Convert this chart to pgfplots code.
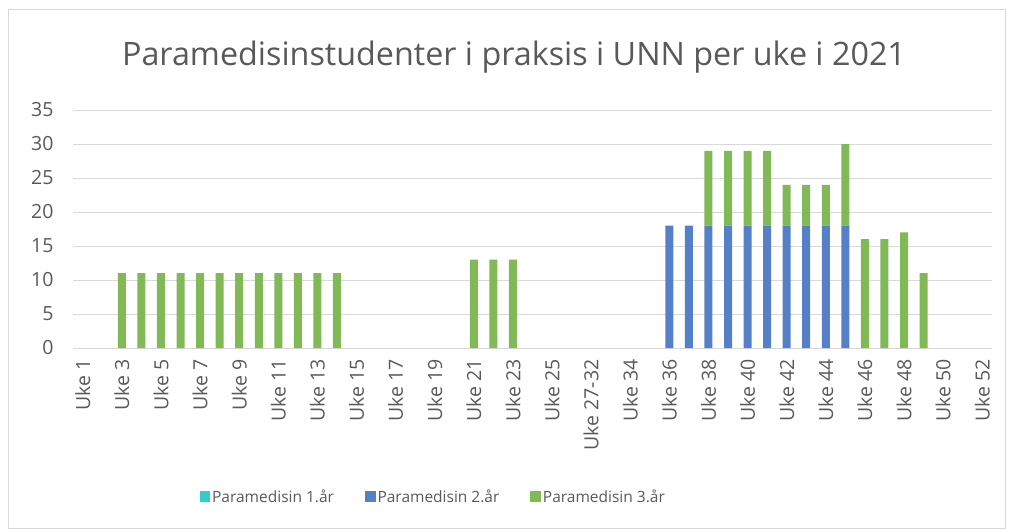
\documentclass[border=0pt]{standalone}
\usepackage{pgfplots}
\pgfplotsset{compat=1.18}
\usepackage{pgfplotstable}
\usepackage{fontspec}
\setmainfont{Open Sans}
\definecolor{txt}{HTML}{595959}
\definecolor{gridc}{HTML}{D9D9D9}
\definecolor{c1}{HTML}{33CCCC}
\definecolor{c2}{HTML}{5580C8}
\definecolor{c3}{HTML}{80B956}
\pgfplotstableread{
x a b c
0 0 0 0
1 0 0 0
2 0 0 11
3 0 0 11
4 0 0 11
5 0 0 11
6 0 0 11
7 0 0 11
8 0 0 11
9 0 0 11
10 0 0 11
11 0 0 11
12 0 0 11
13 0 0 11
14 0 0 0
15 0 0 0
16 0 0 0
17 0 0 0
18 0 0 0
19 0 0 0
20 0 0 13
21 0 0 13
22 0 0 13
23 0 0 0
24 0 0 0
25 0 0 0
26 0 0 0
27 0 0 0
28 0 0 0
29 0 0 0
30 0 18 0
31 0 18 0
32 0 18 11
33 0 18 11
34 0 18 11
35 0 18 11
36 0 18 6
37 0 18 6
38 0 18 6
39 0 18 12
40 0 0 16
41 0 0 16
42 0 0 17
43 0 0 11
44 0 0 0
45 0 0 0
46 0 0 0
}\datatable
\begin{document}
\begin{tikzpicture}
\begin{axis}[
  name=ax, scale only axis,
  width=919pt, height=238pt,
  ybar stacked, bar width=8pt,
  xmin=-0.5, xmax=46.5, ymin=0, ymax=35,
  ytick={0,5,...,35},
  xtick={0,2,...,46},
  xticklabels={Uke 1,Uke 3,Uke 5,Uke 7,Uke 9,Uke 11,Uke 13,Uke 15,Uke 17,Uke 19,Uke 21,Uke 23,Uke 25,Uke 27-32,Uke 34,Uke 36,Uke 38,Uke 40,Uke 42,Uke 44,Uke 46,Uke 48,Uke 50,Uke 52},
  ymajorgrids, grid style={gridc, line width=1pt},
  axis line style={draw=none},
  major tick length=0pt,
  /pgf/number format/assume math mode=true,
  tick label style={font=\fontsize{19.5}{21}\selectfont, text=txt},
  xticklabel style={rotate=90, anchor=east, xshift=-8pt},
  yticklabel style={anchor=east, xshift=-16pt},
  legend columns=3,
  legend cell align=left,
  legend style={at={(0.392,-0.626)}, anchor=center, draw=none, fill=none,
    font=\fontsize{15.5}{18}\selectfont, text=txt,
    /tikz/every even column/.append style={column sep=29pt}},
  legend image code/.code={\fill[#1] (0pt,-5pt) rectangle (10.5pt,5.5pt);},
]
\addplot[fill=c1, draw=none] table[x=x, y=a] {\datatable};
\addplot[fill=c2, draw=none] table[x=x, y=b] {\datatable};
\addplot[fill=c3, draw=none] table[x=x, y=c] {\datatable};
\legend{Paramedisin 1.år, Paramedisin 2.år, Paramedisin 3.år}
\end{axis}
\path[use as bounding box] ([shift={(-73pt,-183pt)}]ax.south west) rectangle ([shift={(937pt,348pt)}]ax.south west);
\draw[gridc, line width=1pt] ([shift={(-64.5pt,-180pt)}]ax.south west) rectangle ([shift={(932pt,338pt)}]ax.south west);
\node[text=txt, font=\fontsize{32.3}{36}\selectfont] at ([shift={(441pt,291pt)}]ax.south west) {Paramedisinstudenter i praksis i UNN per uke i 2021};
\end{tikzpicture}
\end{document}
